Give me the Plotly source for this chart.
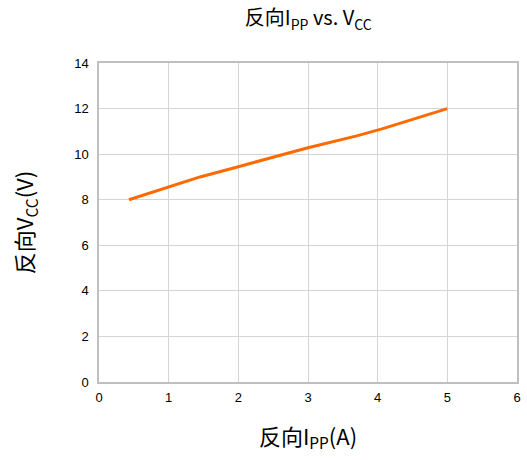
import plotly.graph_objects as go

x_vals = [0.43, 1.0, 1.45, 2.0, 3.0, 3.7, 4.05, 5.0]
y_vals = [8.0, 8.55, 9.0, 9.45, 10.28, 10.8, 11.1, 12.0]

grid = "#d4d4d4"
border = "#bfbfbf"
font_fam = "Liberation Sans, Noto Sans CJK SC, sans-serif"
cjk = "Noto Sans CJK SC, Liberation Sans, sans-serif"

fig = go.Figure()
fig.add_trace(go.Scatter(x=x_vals, y=y_vals, mode="lines",
                         line=dict(color="#ff6a00", width=3), showlegend=False))

fig.update_layout(
    width=527, height=460,
    margin=dict(l=99, r=10, t=63, b=78, autoexpand=False),
    paper_bgcolor="white", plot_bgcolor="white",
    font=dict(family=font_fam, size=13, color="#000"),
    title=dict(text="反向I<sub>PP</sub> vs. V<sub>CC</sub>", x=0.585, xanchor="center",
               y=0.96, yanchor="middle", font=dict(family=cjk, size=20, color="#000")),
    xaxis=dict(range=[0, 6], dtick=1, showgrid=True, gridcolor=grid, gridwidth=1,
               showline=True, linecolor=border, linewidth=1.5, mirror=True, zeroline=False,
               ticks="", tickfont=dict(size=13), ticklabelstandoff=3, automargin=False,
               title=dict(text="反向I<sub>PP</sub>(A)", font=dict(family=cjk, size=22), standoff=25)),
    yaxis=dict(range=[0, 14], dtick=2, showgrid=True, gridcolor=grid, gridwidth=1,
               showline=True, linecolor=border, linewidth=1.5, mirror=True, zeroline=False,
               ticks="", tickfont=dict(size=13), ticklabelstandoff=6, automargin=False,
               title=dict(text="反向V<sub>CC</sub>(V)", font=dict(family=cjk, size=22), standoff=34)),
)

fig.write_html("out.html", config={"displayModeBar": False},
               post_script="document.body.style.margin='0';")
